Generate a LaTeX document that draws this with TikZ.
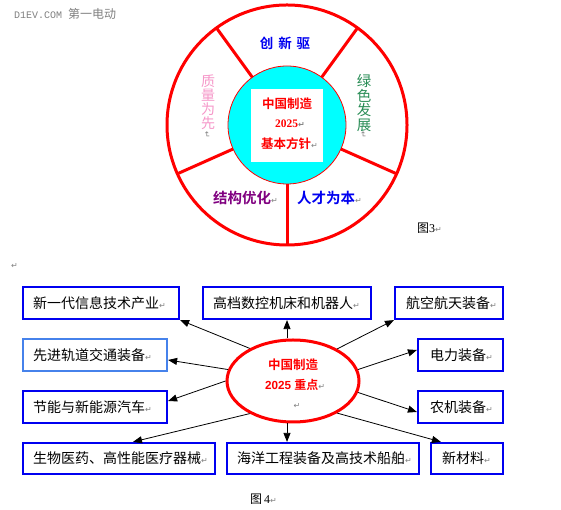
\documentclass[tikz,border=0pt]{standalone}
\usepackage{fontspec}
\setmainfont{Liberation Serif}
\newfontfamily\cjk{Noto Sans CJK SC}
\newfontfamily\cjkb{Noto Sans CJK SC Bold}
\newfontfamily\djv{DejaVu Sans}
\newfontfamily\lsans{Liberation Sans}
\newfontfamily\lmono{Liberation Mono}
\usetikzlibrary{shapes.geometric,arrows.meta,calc}
\definecolor{wred}{RGB}{255,0,0}
\definecolor{wblue}{RGB}{0,0,240}
\definecolor{lblue}{RGB}{70,130,235}
\definecolor{wpink}{RGB}{245,150,200}
\definecolor{wgreen}{RGB}{40,140,85}
\definecolor{wpurple}{RGB}{128,0,128}
\definecolor{cyanfill}{RGB}{0,255,255}
\definecolor{mgray}{RGB}{128,128,128}
\newcommand{\parmark}{{\djv\fontsize{8}{8}\selectfont\color{mgray}↵}}
\tikzset{
  ring/.style={draw=wred,line width=3pt},
  kbox/.style={draw=wblue,line width=2.2pt,fill=white,rectangle,inner xsep=10pt,inner ysep=0pt,
    font=\cjk\fontsize{14}{14}\selectfont,align=left},
  arr/.style={-{Triangle[length=9pt,width=7pt]},line width=0.8pt,black},
  lab/.style={inner sep=0pt},
}
\newcommand{\boxt}[1]{\makebox[\linewidth][l]{#1\parmark}}
\begin{document}
\begin{tikzpicture}[x=1pt,y=1pt]
\useasboundingbox (0,0) rectangle (561,510);
% watermark
\node[lab,anchor=west,text=mgray] (wm) at (14,496) {{\lmono\fontsize{10}{10}\selectfont D1EV.COM }{\cjk\fontsize{12}{12}\selectfont 第一电动}};
% ===== top diagram =====
\coordinate (c) at (287,385);
\draw[ring] (c) circle (120);
\fill[cyanfill] (c) circle (59);
\draw[wred,line width=0.8pt] (c) circle (59);
\foreach \a in {126,54,-24,-156,-90}
  \draw[ring] ($(c)+(\a:59)$) -- ($(c)+(\a:120)$);
\node[fill=white,minimum width=72pt,minimum height=73pt,inner sep=0pt] (wb) at (287,384.5) {};
\node[lab,text=wred,font=\cjkb\fontsize{12.5}{12.5}\selectfont] (t1) at (287,406) {中国制造};
\node[lab,text=wred,font=\bfseries\fontsize{11.5}{11.5}\selectfont,anchor=west] (t2) at (275,386) {2025\parmark};
\node[lab,text=wred,font=\cjkb\fontsize{12.5}{12.5}\selectfont,anchor=west] (t3) at (261,366) {基本方针\parmark};
\node[lab,text=wblue,font=\cjkb\fontsize{13.5}{13.5}\selectfont] (s1) at (285,467) {创\hspace{5pt}新\hspace{5pt}驱};
\node[lab,text=wpink,font=\cjk\fontsize{14}{14}\selectfont,align=center] (s2) at (208,408) {质\\量\\为\\先};
\node[lab,rotate=-90] (s2m) at (207,375) {\parmark};
\node[lab,text=wgreen,font=\cjk\fontsize{14.5}{14.5}\selectfont,align=center] (s3) at (364,407) {绿\\色\\发\\展};
\node[lab,rotate=-90] (s3m) at (363,375) {\parmark};
\node[lab,text=wpurple,font=\cjkb\fontsize{14.5}{14.5}\selectfont,anchor=west] (s4) at (213,312) {结构优化\parmark};
\node[lab,text=wblue,font=\cjkb\fontsize{14.5}{14.5}\selectfont,anchor=west] (s5) at (297,312) {人才为本\parmark};
\node[lab,anchor=west,font=\fontsize{12}{12}\selectfont] (f3) at (417,282) {{\cjk 图}3\parmark};
\node[lab,anchor=west] (pm0) at (11,244) {\parmark};
% ===== bottom diagram =====
\node[draw=wred,line width=3pt,ellipse,fill=white,minimum width=132pt,minimum height=82pt,inner sep=0pt] (ell) at (293,129) {};
\node[lab,text=wred,font=\cjkb\fontsize{12.5}{12.5}\selectfont] (e1) at (293,145) {中国制造};
\node[lab,text=wred,anchor=west] (e2) at (265,125) {{\lsans\bfseries\fontsize{11.7}{11.7}\selectfont 2025 }{\cjkb\fontsize{12}{12}\selectfont 重点}\parmark};
\node[lab] (e3) at (297,104) {\parmark};
\node[kbox,text width=136pt,minimum height=32pt] (b1) at (101,207) {\boxt{新一代信息技术产业}};
\node[kbox,draw=lblue,text width=124pt,minimum height=32pt] (b2) at (95,155) {\boxt{先进轨道交通装备}};
\node[kbox,text width=124pt,minimum height=32pt] (b3) at (95,103) {\boxt{节能与新能源汽车}};
\node[kbox,text width=172pt,minimum height=31pt] (b4) at (119,51.5) {\boxt{生物医药、高性能医疗器械}};
\node[kbox,text width=148pt,minimum height=32pt] (b5) at (287,207) {\boxt{高档数控机床和机器人}};
\node[kbox,text width=172pt,minimum height=31pt] (b6) at (323,51.5) {\boxt{海洋工程装备及高技术船舶}};
\node[kbox,text width=86pt,minimum height=32pt,inner xsep=11pt] (b7) at (449,207) {\boxt{航空航天装备}};
\node[kbox,text width=61pt,minimum height=32pt,inner xsep=12pt] (b8) at (460.5,155) {\boxt{电力装备}};
\node[kbox,text width=61pt,minimum height=32pt,inner xsep=12pt] (b9) at (460.5,103) {\boxt{农机装备}};
\node[kbox,text width=50pt,minimum height=31pt,inner xsep=11pt] (b10) at (467,51.5) {\boxt{新材料}};
\draw[arr] (ell.143) -- (b1.south east);
\draw[arr] (ell.170) -- ($(b2.east)+(0,-5)$);
\draw[arr] (ell.180) -- ($(b3.east)+(0,6)$);
\draw[arr] (ell.217) -- ($(b4.north)+(14,0)$);
\draw[arr] (b5.south |- ell.north) -- (b5.south);
\draw[arr] (ell.south -| b5.south) -- (b6.north -| b5.south);
\draw[arr] (ell.36) -- (b7.south west);
\draw[arr] (ell.10) -- ($(b8.west)+(0,5)$);
\draw[arr] (ell.-10) -- ($(b9.west)+(0,-5)$);
\draw[arr] (ell.-36) -- ($(b10.north west)+(11,0)$);
\node[lab,anchor=west,font=\fontsize{12}{12}\selectfont] (f4) at (250,11) {{\cjk 图}\,4\parmark};
\end{tikzpicture}
\end{document}
